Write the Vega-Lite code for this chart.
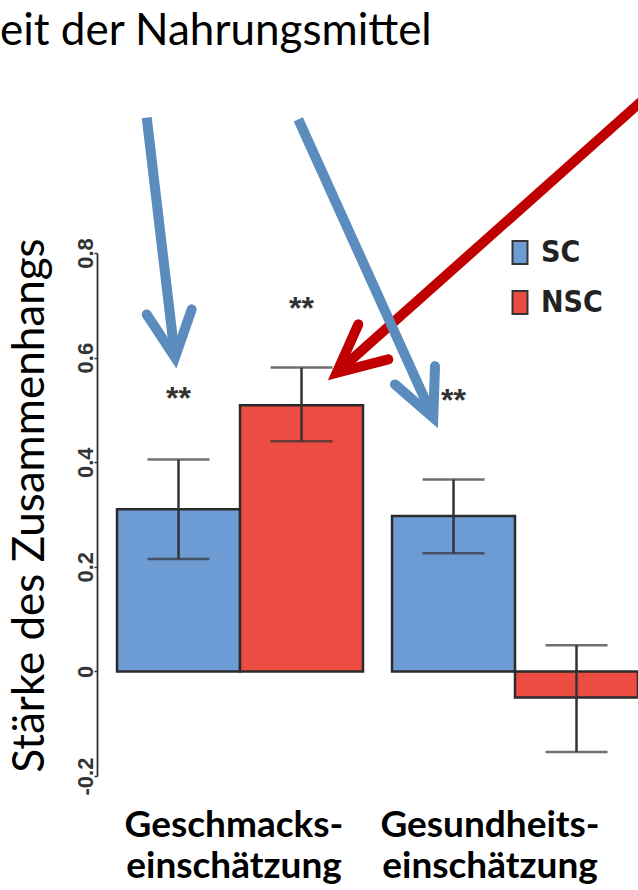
{
  "$schema": "https://vega.github.io/schema/vega-lite/v6.json",
  "autosize": {"type": "none"},
  "padding": {"left": 97, "top": 253, "right": 0, "bottom": 114},
  "width": 541,
  "height": 523,
  "background": "white",
  "title": {"text": "eit der Nahrungsmittel", "anchor": "start", "frame": "group", "dx": -97, "font": "Lato", "fontSize": 44, "fontWeight": "normal", "color": "#000000", "baseline": "alphabetic", "offset": -24},
  "config": {"view": {"stroke": null}},
  "datasets": {
    "bars": [
      {"cat": "Geschmacks-|einschätzung", "grp": "SC", "v": 0.310, "lo": 0.215, "hi": 0.405, "sig": "**", "sig_y": 0.539},
      {"cat": "Geschmacks-|einschätzung", "grp": "NSC", "v": 0.509, "lo": 0.440, "hi": 0.581, "sig": "**", "sig_y": 0.711},
      {"cat": "Gesundheits-|einschätzung", "grp": "SC", "v": 0.297, "lo": 0.226, "hi": 0.367, "sig": "**", "sig_y": 0.534},
      {"cat": "Gesundheits-|einschätzung", "grp": "NSC", "v": -0.050, "lo": -0.154, "hi": 0.050, "sig": "", "sig_y": null}
    ],
    "arrows": [
      {"id": "a0", "grp": "NSC", "part": "shaft", "i": 0, "ax": 1.0407, "ay": 1.1216},
      {"id": "a0", "grp": "NSC", "part": "shaft", "i": 1, "ax": 0.4431, "ay": 0.5711},
      {"id": "a1", "grp": "SC", "part": "shaft", "i": 0, "ax": 0.0919, "ay": 1.0587},
      {"id": "a1", "grp": "SC", "part": "shaft", "i": 1, "ax": 0.1442, "ay": 0.6004},
      {"id": "a2", "grp": "SC", "part": "shaft", "i": 0, "ax": 0.3721, "ay": 1.0554},
      {"id": "a2", "grp": "SC", "part": "shaft", "i": 1, "ax": 0.6216, "ay": 0.4851},
      {"id": "h0", "grp": "NSC", "part": "head", "i": 0, "ax": 0.4830, "ay": 0.6635},
      {"id": "h0", "grp": "NSC", "part": "head", "i": 1, "ax": 0.4431, "ay": 0.5711},
      {"id": "h0", "grp": "NSC", "part": "head", "i": 2, "ax": 0.5384, "ay": 0.5966},
      {"id": "h1", "grp": "SC", "part": "head", "i": 0, "ax": 0.0919, "ay": 0.6826},
      {"id": "h1", "grp": "SC", "part": "head", "i": 1, "ax": 0.1442, "ay": 0.6004},
      {"id": "h1", "grp": "SC", "part": "head", "i": 2, "ax": 0.1750, "ay": 0.6922},
      {"id": "h2", "grp": "SC", "part": "head", "i": 0, "ax": 0.5508, "ay": 0.5488},
      {"id": "h2", "grp": "SC", "part": "head", "i": 1, "ax": 0.6216, "ay": 0.4851},
      {"id": "h2", "grp": "SC", "part": "head", "i": 2, "ax": 0.6248, "ay": 0.5837}
    ]
  },
  "layer": [
    {
      "data": {"name": "bars"},
      "encoding": {
        "x": {
          "field": "cat", "type": "nominal", "sort": null,
          "scale": {"paddingInner": 0.1055, "paddingOuter": 0.0364, "align": 1},
          "axis": {"title": null, "domain": false, "ticks": false, "labelAngle": 0, "labelExpr": "split(datum.label, '|')", "labelFont": "Lato", "labelFontSize": 37, "labelFontWeight": "bold", "labelColor": "#000000", "labelPadding": 31, "labelLineHeight": 41, "labelBaseline": "top", "labelLimit": 0, "labelOverlap": false, "labelOffset": {"condition": {"test": "datum.value == 'Gesundheits-|einschätzung'", "value": -25}, "value": -6}}
        },
        "xOffset": {"field": "grp", "type": "nominal", "sort": ["SC", "NSC"], "scale": {"paddingInner": 0, "paddingOuter": 0}},
        "y": {
          "field": "v", "type": "quantitative",
          "scale": {"domain": [-0.2, 0.8], "nice": false, "zero": false},
          "axis": {"title": "Stärke des Zusammenhangs", "values": [-0.2, 0, 0.2, 0.4, 0.6, 0.8], "labelExpr": "datum.value < 0 ? '-' + format(-datum.value, '~g') : format(datum.value, '~g')", "labelAngle": -90, "labelAlign": "center", "labelBaseline": "alphabetic", "labelFont": "Liberation Sans", "labelFontWeight": "bold", "labelFontSize": 22, "labelColor": "#333333", "labelPadding": 2, "tickSize": 3, "tickColor": "#333333", "tickWidth": 1.5, "domainColor": "#333333", "domainWidth": 1.8, "grid": false, "labelFlush": false, "labelOverlap": false, "titleFont": "Lato", "titleFontSize": 44, "titleFontWeight": "normal", "titleColor": "#000000", "titlePadding": 22, "titleY": 252}
        }
      },
      "layer": [
        {
          "mark": {"type": "bar", "stroke": "#2b2b2b", "strokeWidth": 2.5},
          "encoding": {
            "y2": {"datum": 0},
            "color": {
              "field": "grp", "type": "nominal",
              "scale": {"domain": ["SC", "NSC"], "range": ["#6d9cd4", "#ec4c42"]},
              "legend": {"title": null, "orient": "none", "legendX": 408, "legendY": -15.5, "padding": 0, "symbolType": "M-0.65,-1H0.65V1H-0.65Z", "symbolSize": 529, "symbolStrokeColor": "#333333", "symbolStrokeWidth": 2, "symbolOpacity": 1, "labelFont": "Liberation Sans Narrow, DejaVu Sans Condensed, Liberation Sans", "labelFontSize": 30, "labelFontWeight": "bold", "labelColor": "#222222", "rowPadding": 18, "labelOffset": 6}
            }
          }
        },
        {
          "mark": {"type": "rule", "color": "#333333", "strokeWidth": 2.5},
          "encoding": {"y": {"field": "lo", "type": "quantitative"}, "y2": {"field": "hi"}}
        },
        {
          "mark": {"type": "tick", "color": "#333333", "thickness": 2.5, "size": 62, "orient": "horizontal"},
          "encoding": {"y": {"field": "lo", "type": "quantitative"}}
        },
        {
          "mark": {"type": "tick", "color": "#333333", "thickness": 2.5, "size": 62, "orient": "horizontal"},
          "encoding": {"y": {"field": "hi", "type": "quantitative"}}
        },
        {
          "transform": [{"filter": "datum.sig != ''"}],
          "mark": {"type": "text", "font": "Liberation Sans", "fontWeight": "bold", "fontSize": 32, "color": "#333333", "baseline": "alphabetic", "dy": 19},
          "encoding": {"y": {"field": "sig_y", "type": "quantitative"}, "text": {"field": "sig"}}
        }
      ]
    },
    {
      "data": {"name": "arrows"},
      "encoding": {
        "x": {"field": "ax", "type": "quantitative", "scale": {"domain": [0, 1], "nice": false, "zero": false}, "axis": null},
        "y": {"field": "ay", "type": "quantitative", "scale": {"domain": [-0.2, 0.8], "nice": false, "zero": false}, "axis": null},
        "detail": {"field": "id"},
        "order": {"field": "i"},
        "color": {"field": "grp", "type": "nominal", "scale": {"domain": ["SC", "NSC"], "range": ["#5a8cbe", "#c00000"]}, "legend": null}
      },
      "layer": [
        {
          "transform": [{"filter": "datum.part == 'shaft'"}],
          "mark": {"type": "line", "strokeWidth": 10, "strokeCap": "butt"}
        },
        {
          "transform": [{"filter": "datum.part == 'head'"}],
          "mark": {"type": "line", "strokeWidth": 10, "strokeCap": "round", "strokeJoin": "miter", "strokeMiterLimit": 10}
        }
      ]
    }
  ],
  "resolve": {"scale": {"x": "independent", "y": "independent", "color": "independent"}}
}
